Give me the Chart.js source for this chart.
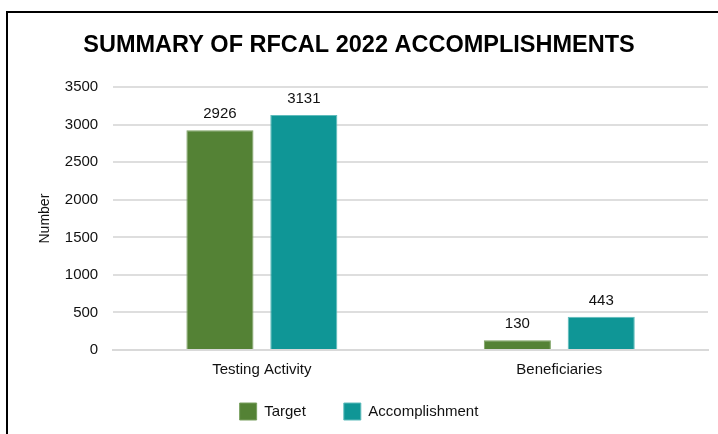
<!DOCTYPE html>
<html>
<head>
<meta charset="utf-8">
<script src="https://cdn.jsdelivr.net/npm/chart.js@4.4.0/dist/chart.umd.min.js"></script>
<style>
  html, body { margin: 0; padding: 0; background: #fff; }
  #wrap { position: relative; width: 718px; height: 434px; overflow: hidden; }
  #frame { position: absolute; left: 6px; top: 11px; right: -4px; bottom: -4px; border-left: 2px solid #000; border-top: 2px solid #000; }
  canvas { position: absolute; left: 0; top: 0; }
</style>
</head>
<body>
<div id="wrap">
  <div id="frame"></div>
  <canvas id="miGrafica" width="718" height="434"></canvas>
</div>
<script>
const categorias = ["Testing Activity", "Beneficiaries"];
const metas = [2926, 130];
const logros = [3131, 443];
const marcasY = [0, 500, 1000, 1500, 2000, 2500, 3000, 3500];

const fuente = "'Liberation Sans', Arial, sans-serif";

// numeros encima de cada barra
const etiquetasValor = {
    id: "etiquetasValor",
    afterDatasetsDraw(chart) {
        const ctx = chart.ctx;
        ctx.save();
        ctx.font = "15px " + fuente;
        ctx.fillStyle = "#111";
        ctx.textAlign = "center";
        ctx.textBaseline = "alphabetic";
        chart.data.datasets.forEach((ds, i) => {
            chart.getDatasetMeta(i).data.forEach((barra, j) => {
                ctx.fillText(ds.data[j], barra.x, barra.y - 12);
            });
        });
        ctx.restore();
    }
};

// coloca la leyenda justo a la altura del original
const subirLeyenda = {
    id: "subirLeyenda",
    afterLayout(chart) {
        const lg = chart.legend;
        const alto = lg.bottom - lg.top;
        lg.top = 403 - lg.options.labels.padding;
        lg.bottom = lg.top + alto;
    }
};

const ctx = document.getElementById("miGrafica").getContext("2d");
const grafica = new Chart(ctx, {
    type: "bar",
    data: {
        labels: categorias,
        datasets: [{
            label: "Target",
            data: metas,
            backgroundColor: "#548235",
            borderColor: "#7aa060",
            borderWidth: 1
        }, {
            label: "Accomplishment",
            data: logros,
            backgroundColor: "#0f9696",
            borderColor: "#5fbcbc",
            borderWidth: 1
        }]
    },
    options: {
        responsive: false,
        animation: false,
        categoryPercentage: 0.564,
        barPercentage: 0.8,
        layout: { padding: { left: 10, right: 10, top: 10, bottom: -21 } },
        plugins: {
            title: {
                display: true,
                text: "SUMMARY OF RFCAL 2022 ACCOMPLISHMENTS",
                color: "#000",
                font: { family: fuente, size: 23.5, weight: "bold" },
                padding: { top: 21, bottom: 28 }
            },
            legend: {
                position: "bottom",
                labels: {
                    color: "#111",
                    font: { family: fuente, size: 15 },
                    boxWidth: 17,
                    boxHeight: 17,
                    padding: 38
                }
            },
            tooltip: { enabled: false }
        },
        scales: {
            x: {
                grid: { display: false, drawTicks: false },
                border: { color: "#d9d9d9", width: 2 },
                ticks: { color: "#111", font: { family: fuente, size: 15 }, padding: 11 }
            },
            y: {
                min: 0,
                max: 3500,
                afterBuildTicks: (eje) => { eje.ticks = marcasY.map(v => ({ value: v })); },
                grid: { color: "#dedede", lineWidth: 2, drawTicks: false },
                border: { display: false },
                ticks: { color: "#111", font: { family: fuente, size: 15 }, padding: 15, callback: (v) => String(v) },
                title: {
                    display: true,
                    text: "Number",
                    color: "#111",
                    font: { family: fuente, size: 14 },
                    padding: { top: 27, bottom: -4 }
                }
            }
        }
    },
    plugins: [etiquetasValor, subirLeyenda]
});
</script>
</body>
</html>
